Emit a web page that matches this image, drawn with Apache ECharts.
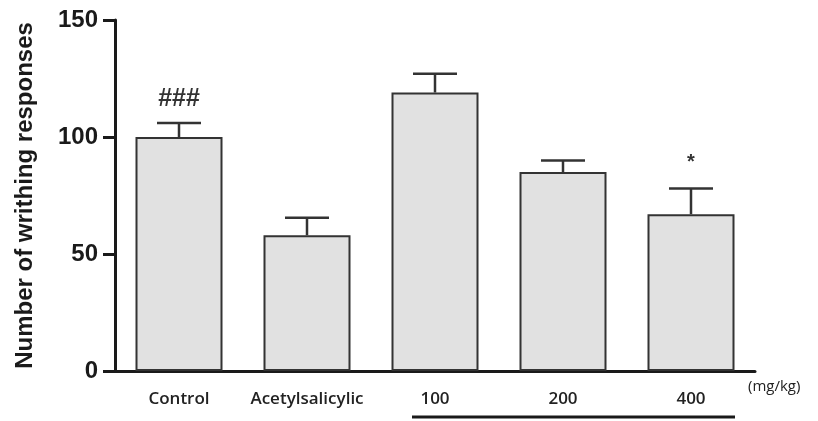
<!DOCTYPE html>
<html>
<head>
<meta charset="utf-8">
<script src="https://cdn.jsdelivr.net/npm/echarts@6/dist/echarts.min.js"></script>
<style>
  html, body { margin:0; padding:0; background:#fff; }
  #chart { width:818px; height:421px; }
</style>
</head>
<body>
<div id="chart"></div>
<script>
// ---------- data ----------
const categories = ['Control', 'Acetylsalicylic', '100', '200', '400'];
const means      = [100, 58, 119, 85, 67];
const errors     = [6, 7.5, 8, 5, 11];   // upper SEM
const marks      = ['###', '', '', '', '*'];
const yTicks     = [0, 50, 100, 150];

const chart = echarts.init(document.getElementById('chart'), null, { renderer: 'canvas' });

const ink = '#1a1a1a';

chart.setOption({
  animation: false,
  backgroundColor: '#fff',
  grid: { left: 115, right: 63, top: 20, bottom: 50 },
  xAxis: {
    type: 'category',
    data: categories,
    axisLine: { lineStyle: { color: ink, width: 3 } },
    axisTick: { alignWithLabel: true, length: 9, lineStyle: { color: ink, width: 3 } },
    axisLabel: {
      interval: 0, hideOverlap: false,
      color: '#222', fontFamily: 'Open Sans', fontWeight: 600, fontSize: 17, margin: 20
    }
  },
  yAxis: {
    type: 'value',
    min: yTicks[0], max: yTicks[yTicks.length - 1], interval: 50,
    name: 'Number of writhing responses',
    nameLocation: 'middle',
    nameGap: 78,
    nameTextStyle: { color: ink, fontFamily: 'Liberation Sans', fontWeight: 'bold', fontSize: 24 },
    axisLine: { show: true, lineStyle: { color: ink, width: 3 } },
    axisTick: { show: true, length: 12, lineStyle: { color: ink, width: 3 } },
    axisLabel: { color: ink, fontFamily: 'Liberation Sans', fontWeight: 'bold', fontSize: 24, margin: 17 },
    splitLine: { show: false }
  },
  series: [
    {
      type: 'bar',
      data: means,
      barWidth: 87,
      itemStyle: { color: '#e1e1e1', borderColor: '#333', borderWidth: 2 },
      z: 2
    },
    {
      type: 'custom',
      data: means.map((m, i) => [i, m, errors[i]]),
      z: 3,
      renderItem(params, api) {
        const i = api.value(0);
        const base = api.coord([i, api.value(1)]);
        const top = api.coord([i, api.value(1) + api.value(2)]);
        const half = 22;
        const style = { stroke: '#333', lineWidth: 2.5 };
        const children = [
          { type: 'line', shape: { x1: base[0], y1: base[1], x2: top[0], y2: top[1] }, style },
          { type: 'line', shape: { x1: top[0] - half, y1: top[1], x2: top[0] + half, y2: top[1] }, style }
        ];
        const t = marks[params.dataIndex];
        if (t) {
          const star = t === '*';
          children.push({
            type: 'text',
            style: {
              text: t, x: top[0], y: top[1] - (star ? 26 : 24),
              align: 'center', verticalAlign: 'middle',
              fill: '#333', font: star ? 'bold 20px "Liberation Sans"' : 'bold 25px "Liberation Sans"'
            }
          });
        }
        return { type: 'group', children };
      }
    }
  ],
  graphic: [
    {
      type: 'text', left: 748, top: 379,
      style: { text: '(mg/kg)', fill: '#222', font: '15px "Open Sans"' }
    },
    {
      type: 'line', shape: { x1: 412, y1: 417, x2: 735, y2: 417 },
      style: { stroke: ink, lineWidth: 3 }
    }
  ]
});
</script>
</body>
</html>
